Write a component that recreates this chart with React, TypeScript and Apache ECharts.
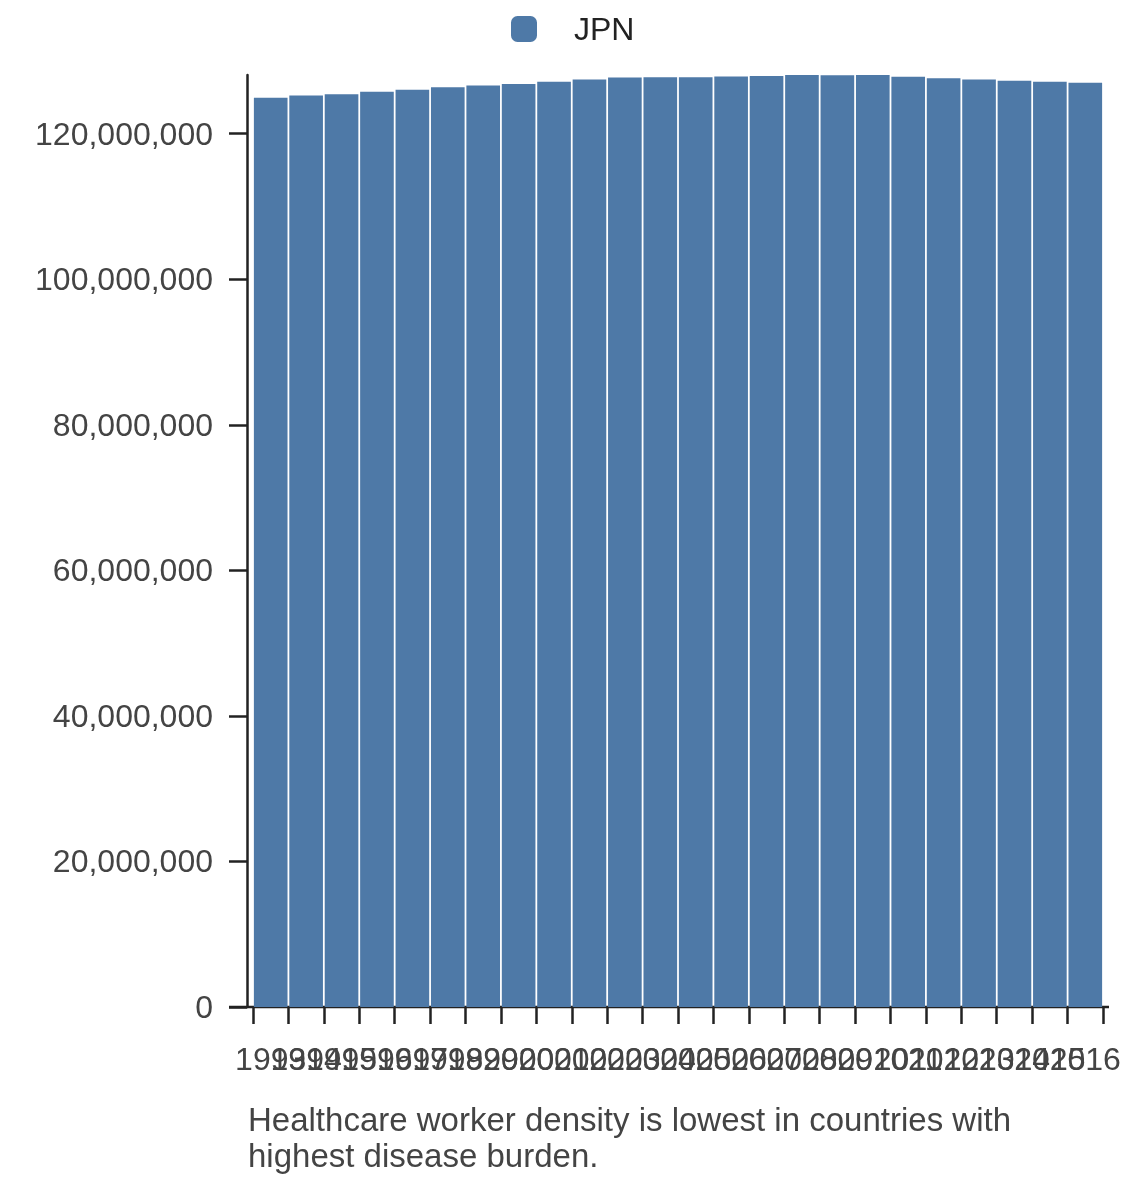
import React, { useEffect, useRef } from "react";
import * as echarts from "echarts";

const years = [
  "1993", "1994", "1995", "1996", "1997", "1998", "1999", "2000",
  "2001", "2002", "2003", "2004", "2005", "2006", "2007", "2008",
  "2009", "2010", "2011", "2012", "2013", "2014", "2015", "2016",
];
const population = [
  124938000, 125265000, 125439000, 125757000, 126057000, 126400000,
  126631000, 126843000, 127149000, 127445000, 127718000, 127761000,
  127773000, 127854000, 127937000, 128063000, 128047000, 128070000,
  127833000, 127629000, 127445000, 127276000, 127141000, 126994000,
];
const yTicks = [0, 20000000, 40000000, 60000000, 80000000, 100000000, 120000000];
const seriesName = "JPN";
const note = "Healthcare worker density is lowest in countries with\nhighest disease burden.";

const FONT = "'Liberation Sans', Arial, Helvetica, sans-serif";

export default function App() {
  const ref = useRef<HTMLDivElement>(null);
  useEffect(() => {
    if (!ref.current) return;
    const chart = echarts.init(ref.current, undefined, { renderer: "svg" });
    const yMax = Math.max(...population);
    chart.setOption({
      animation: false,
      textStyle: { fontFamily: FONT },
      legend: {
        left: 511,
        top: 13,
        padding: 0,
        itemWidth: 26,
        itemHeight: 26,
        icon: "roundRect",
        data: [seriesName],
        textStyle: { fontSize: 32, color: "#222", fontFamily: FONT, padding: [0, 0, 0, 32] },
      },
      grid: { left: 253, right: 37, top: 75, bottom: 175, containLabel: false },
      xAxis: {
        type: "category",
        data: years,
        boundaryGap: true,
        axisLine: { show: false },
        axisTick: { show: true, length: 17, lineStyle: { color: "#222", width: 2.5 } },
        axisLabel: {
          interval: 0,
          hideOverlap: false,
          fontSize: 32,
          color: "#444",
          margin: 36,
          fontFamily: FONT,
        },
      },
      yAxis: {
        type: "value",
        min: 0,
        max: yMax,
        offset: 6,
        splitLine: { show: false },
        axisLine: { show: true, lineStyle: { color: "#222", width: 2.5 } },
        axisTick: { show: true, length: 18, lineStyle: { color: "#222", width: 2.5 }, customValues: yTicks },
        axisLabel: {
          customValues: yTicks,
          fontSize: 32,
          color: "#444",
          margin: 34,
          fontFamily: FONT,
          formatter: (v: number) => v.toLocaleString("en-US"),
        },
      },
      series: [
        {
          name: seriesName,
          type: "bar",
          data: population,
          barCategoryGap: "5%",
          itemStyle: { color: "#4e79a7" },
        },
      ],
      graphic: [
        {
          type: "line",
          shape: { x1: 229, y1: 1007, x2: 1109, y2: 1007 },
          style: { stroke: "#222", lineWidth: 2.5 },
          silent: true,
        },
        {
          type: "text",
          left: 248,
          top: 1101,
          style: {
            text: note,
            font: `33px ${FONT}`,
            fill: "#444",
            lineHeight: 36,
          },
        },
      ],
    });
    return () => chart.dispose();
  }, []);
  return <div ref={ref} style={{ position: "fixed", left: 0, top: 0, width: 1140, height: 1182 }} />;
}
